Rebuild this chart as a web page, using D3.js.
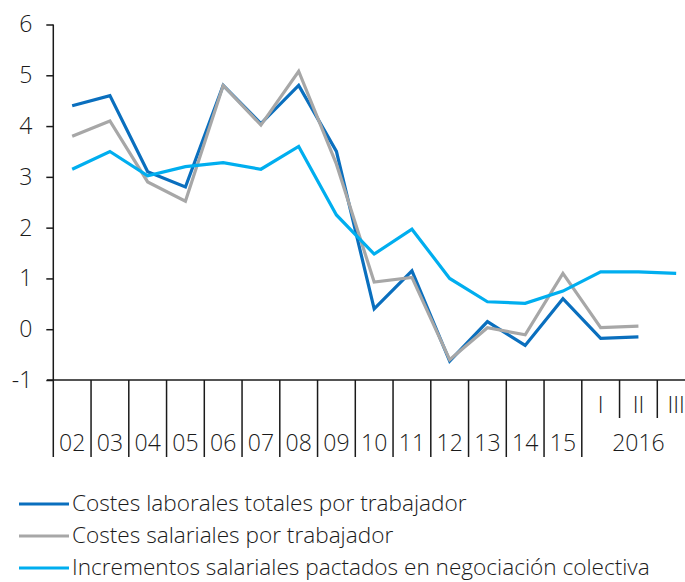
<!DOCTYPE html>
<html>
<head>
<meta charset="utf-8">
<script src="https://cdn.jsdelivr.net/npm/d3@7"></script>
<style>
  html, body { margin: 0; padding: 0; background: #fff; }
  svg { display: block; }
  text { font-family: "Open Sans", "Noto Sans", sans-serif; font-weight: 300; fill: #1a1a1a; }
</style>
</head>
<body>
<svg id="chart" width="685" height="582"></svg>
<script>
// Annual periods (2002-2015) followed by quarters of 2016
const years = ["02","03","04","05","06","07","08","09","10","11","12","13","14","15"];
const quarters = ["I","II","III"];
const quarterYear = "2016";
const periods = years.concat(quarters.map(q => quarterYear + "-" + q));

// Year-on-year growth rates, %
const costesLaborales  = [4.4, 4.6, 3.1, 2.8, 4.8, 4.05, 4.8, 3.5, 0.4, 1.15, -0.63, 0.15, -0.32, 0.6, -0.18, -0.15, null];
const costesSalariales = [3.8, 4.1, 2.9, 2.52, 4.8, 4.02, 5.08, 3.25, 0.93, 1.02, -0.6, 0.03, -0.11, 1.1, 0.03, 0.06, null];
const incrementos      = [3.15, 3.5, 3.02, 3.2, 3.28, 3.15, 3.6, 2.25, 1.48, 1.97, 1.0, 0.54, 0.51, 0.75, 1.13, 1.13, 1.1];

const yTicks = [-1, 0, 1, 2, 3, 4, 5, 6];

const seriesNames = [
  "Costes laborales totales por trabajador",
  "Costes salariales por trabajador",
  "Incrementos salariales pactados en negociación colectiva"
];
const seriesValues = [costesLaborales, costesSalariales, incrementos];
const seriesColors = ["#0a6fbe", "#a7a7a7", "#00aeef"];

const svg = d3.select("#chart");
const axisColor = "#1a1a1a";
const labelSize = 23;

const x = d3.scaleBand().domain(periods).range([53.3, 53.3 + 37.75 * periods.length]).paddingInner(0).paddingOuter(0);
const y = d3.scaleLinear().domain([-1, 6]).range([380, 24.5]);

// Vertical axis with ticks on the left
const yAxis = svg.append("g").attr("transform", `translate(${x.range()[0]},0)`)
  .call(d3.axisLeft(y).tickValues(yTicks).tickSize(7).tickPadding(14).tickFormat(d => String(d)));
yAxis.select(".domain").remove();
yAxis.selectAll(".tick line").attr("stroke", axisColor).attr("stroke-width", 1.5);
yAxis.selectAll(".tick text").attr("font-size", labelSize).attr("font-family", null).attr("fill", axisColor);

svg.append("line")
  .attr("x1", x.range()[0]).attr("x2", x.range()[0])
  .attr("y1", y(6)).attr("y2", 457)
  .attr("stroke", axisColor).attr("stroke-width", 1.5);

// Horizontal axis along -1
svg.append("line")
  .attr("x1", 47).attr("x2", 685)
  .attr("y1", y(-1)).attr("y2", y(-1))
  .attr("stroke", axisColor).attr("stroke-width", 1.5);

// Period separators: long between years, short between quarters
const bounds = periods.map(p => x(p)).concat([x.range()[1]]);
const yearCount = years.length;
bounds.forEach((bx, i) => {
  if (i === 0) return;
  const isQuarterSep = i > yearCount;
  svg.append("line")
    .attr("x1", bx).attr("x2", bx)
    .attr("y1", y(-1)).attr("y2", isQuarterSep ? 418 : 457)
    .attr("stroke", axisColor).attr("stroke-width", 1.5);
});

// Year labels
svg.append("g").selectAll("text").data(years).join("text")
  .attr("x", d => x(d) + x.bandwidth() / 2)
  .attr("y", 451)
  .attr("text-anchor", "middle")
  .attr("font-size", labelSize)
  .text(d => d);

// Quarter labels and the year they belong to
svg.append("g").selectAll("text").data(quarters).join("text")
  .attr("x", d => x(quarterYear + "-" + d) + x.bandwidth() / 2)
  .attr("y", 413)
  .attr("text-anchor", "middle")
  .attr("font-size", labelSize)
  .text(d => d);

svg.append("text")
  .attr("x", x(quarterYear + "-" + quarters[1]) + x.bandwidth() / 2)
  .attr("y", 451)
  .attr("text-anchor", "middle")
  .attr("font-size", labelSize)
  .text(quarterYear);

// Series lines
const line = d3.line()
  .defined(d => d.v !== null)
  .x(d => x(d.p) + x.bandwidth() / 2)
  .y(d => y(d.v));

seriesValues.forEach((vals, i) => {
  svg.append("path")
    .datum(vals.map((v, j) => ({ p: periods[j], v })))
    .attr("fill", "none")
    .attr("stroke", seriesColors[i])
    .attr("stroke-width", 3.2)
    .attr("stroke-linejoin", "miter")
    .attr("d", line);
});

// Legend
const legend = svg.append("g");
seriesNames.forEach((name, i) => {
  const ly = 504 + i * 32;
  legend.append("line")
    .attr("x1", 19).attr("x2", 69)
    .attr("y1", ly).attr("y2", ly)
    .attr("stroke", seriesColors[i]).attr("stroke-width", 3);
  legend.append("text")
    .attr("x", 72).attr("y", ly + 7)
    .attr("font-size", 22.6)
    .text(name);
});
</script>
</body>
</html>
